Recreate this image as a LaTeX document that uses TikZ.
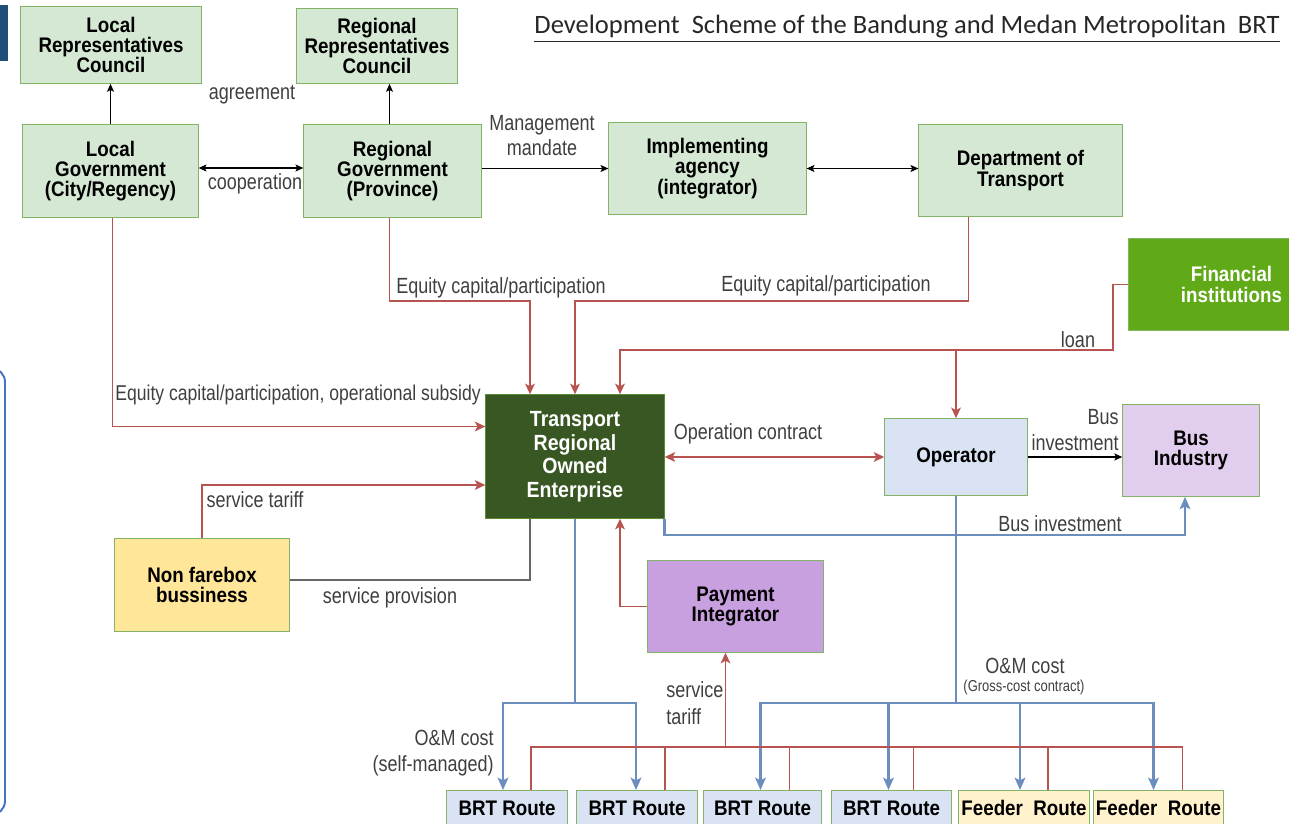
\documentclass[tikz,border=0pt]{standalone}
\usepackage{fontspec}
\usetikzlibrary{arrows.meta,calc}
\newfontfamily\boxfont[FakeStretch=0.89]{Liberation Sans}
\newfontfamily\lblfont[FakeStretch=0.82]{Liberation Sans}
\newfontfamily\ttlfont{Carlito}
\definecolor{gfill}{HTML}{D5E8D4}
\definecolor{gbord}{HTML}{82B366}
\definecolor{troefill}{HTML}{385723}
\definecolor{troebord}{HTML}{5B8C32}
\definecolor{finfill}{HTML}{60A917}
\definecolor{opfill}{HTML}{DAE3F3}
\definecolor{busfill}{HTML}{E1CDEE}
\definecolor{payfill}{HTML}{C9A0DF}
\definecolor{nffill}{HTML}{FFE699}
\definecolor{fdfill}{HTML}{FFF2CC}
\definecolor{redc}{HTML}{B85450}
\definecolor{bluec}{HTML}{6C8EBF}
\definecolor{lblc}{HTML}{3F3F3F}
\definecolor{barc}{HTML}{1F4E79}
\definecolor{frame}{HTML}{4472C4}
\newcommand\mkbox[7]{%
  \pgfmathsetmacro\bw{(#4-#2)*0.5669}%
  \pgfmathsetmacro\bh{(#5-#3)*0.5669}%
  \node[#6,minimum width=\bw pt,minimum height=\bh pt] (#1) at ({(#2+#4)/2},{(#3+#5)/2}) {#7};}
\begin{document}
\begin{tikzpicture}[x=0.02cm,y=-0.02cm,
  box/.style={draw=gbord,line width=0.6pt,inner sep=1pt,outer sep=0pt,align=center,
    font=\boxfont\bfseries\fontsize{12}{11.6}\selectfont,text=black},
  gbox/.style={box,fill=gfill},
  lbl/.style={font=\lblfont\fontsize{12.5}{14}\selectfont,text=lblc,inner sep=0pt},
  blk/.style={draw=black,line width=0.6pt,>={Stealth[length=4.5pt,width=4pt,inset=1pt]}},
  redl/.style={draw=redc,line width=1.1pt,>={Stealth[length=6pt,width=5.5pt,inset=1.5pt]}},
  redt/.style={draw=redc,line width=0.8pt},
  bluel/.style={draw=bluec,line width=1.4pt,>={Stealth[length=7pt,width=6pt,inset=1.5pt]}},
  greyl/.style={draw=gray!80!black,line width=0.8pt}]
\useasboundingbox (0,0) rectangle (1289,824);
\clip (0,0) rectangle (1289,824);
% decorations at the left edge
\fill[barc] (0,5) rectangle (8,61);
\draw[frame,line width=1.1pt,rounded corners=8pt] (-40,368) rectangle (5,815);
% title
\node[font=\ttlfont\fontsize{15.1}{17}\selectfont,text=black!85,inner sep=0pt,anchor=base] (title) at (907,34)
  {\underline{Development\ \ Scheme of the Bandung and Medan Metropolitan\ \ BRT}};
% boxes
\mkbox{LocRep}{20}{6}{202}{84}{gbox}{Local\\Representatives\\Council}
\mkbox{RegRep}{296}{8}{458}{84}{gbox}{Regional\\Representatives\\Council}
\mkbox{LocGov}{22}{124}{199}{218}{gbox}{Local\\Government\\(City/Regency)}
\mkbox{RegGov}{303}{124}{482}{218}{gbox}{Regional\\Government\\(Province)}
\mkbox{ImpA}{608}{122}{807}{215}{gbox}{Implementing\\agency\\(integrator)}
\mkbox{Dept}{918}{124}{1123}{217}{gbox}{Department of\\Transport}
\mkbox{Fin}{1128}{238}{1335}{331}{box,fill=finfill,text=white}{Financial\\institutions}
\mkbox{TROE}{485}{394}{665}{519}{box,fill=troefill,draw=troebord,text=white,font=\boxfont\bfseries\fontsize{12.5}{13.4}\selectfont}{Transport\\Regional\\Owned\\Enterprise}
\mkbox{Op}{884}{418}{1028}{496}{box,fill=opfill}{Operator}
\mkbox{BusInd}{1122}{404}{1260}{497}{box,fill=busfill}{Bus\\Industry}
\mkbox{NF}{114}{538}{290}{632}{box,fill=nffill}{Non farebox\\bussiness}
\mkbox{PI}{647}{560}{824}{653}{box,fill=payfill}{Payment\\Integrator}
\mkbox{BRTa}{446}{790}{568}{826}{box,fill=opfill}{BRT Route}
\mkbox{BRTb}{576}{790}{698}{826}{box,fill=opfill}{BRT Route}
\mkbox{BRTc}{703}{790}{822}{826}{box,fill=opfill}{BRT Route}
\mkbox{BRTd}{831}{790}{952}{826}{box,fill=opfill}{BRT Route}
\mkbox{FRa}{958}{790}{1090}{826}{box,fill=fdfill}{Feeder\ \ Route}
\mkbox{FRb}{1093}{790}{1224}{826}{box,fill=fdfill}{Feeder\ \ Route}
% top black connectors
\draw[blk,->] (LocGov.north) -- (LocGov.north |- LocRep.south);
\draw[blk,->] ($(RegGov.north)+(-3,0)$) -- ($(RegGov.north |- RegRep.south)+(-3,0)$);
\draw[blk,<->] ($(LocGov.east)+(0,-3)$) -- ($(RegGov.west)+(0,-3)$);
\draw[blk,->] (RegGov.east |- ImpA.east) -- (ImpA.east -| ImpA.west);
\draw[blk,<->] (ImpA.east) -- (ImpA.east -| Dept.west);
\node[lbl] (lagr) at (252,95) {agreement};
\node[lbl] (lcoop) at (255,184) {cooperation};
\node[lbl,align=center,font=\lblfont\fontsize{12.5}{14.2}\selectfont] (lmand) at (542,136) {Management\\mandate};
% equity capital flows
\draw[redl,->] ($(RegGov.south)+(-3,0)$) -- ++(0,83) -| ($(TROE.north)+(-45,0)$);
\draw[redl,->] ($(Dept.south)+(-52,0)$) -- ++(0,84) -| (TROE.north);
\draw[redl,->] ($(LocGov.south)+(2,0)$) |- ($(TROE.west)+(0,-30)$);
\node[lbl,anchor=west] (leq1) at (396,288) {Equity\ capital/participation};
\node[lbl,anchor=west] (leq2) at (721,286) {Equity\ capital/participation};
\node[lbl,anchor=west,font=\lblfont\fontsize{12.2}{14}\selectfont] (leq3) at (115,395) {Equity\ capital/participation, operational subsidy};
% loan
\coordinate (loanbar) at (0,350);
\draw[redl,->] (Fin.west) -- ++(-15,0) |- ($(TROE.north |- loanbar)+(45,0)$) -- ($(TROE.north)+(45,0)$);
\draw[redl,->] (Op.north |- loanbar) -- (Op.north);
\node[lbl] (lloan) at (1078,340) {loan};
% operator relations
\draw[redl,<->] (TROE.east |- Op.west) -- (Op.west);
\node[lbl] (lopc) at (748,434) {Operation contract};
\draw[blk,->] (Op.east) -- (Op.east -| BusInd.west);
\node[lbl,anchor=east,align=right,font=\lblfont\fontsize{12.5}{15}\selectfont] (lbus1) at (1119,430) {Bus\\investment};
\draw[bluel,->] (TROE.south east) -- ++(0,16) -| ($(BusInd.south)+(-6,0)$);
\node[lbl] (lbus2) at (1060,524) {Bus investment};
% non farebox
\draw[redl,->] (NF.north) |- ($(TROE.west)+(0,28.5)$);
\node[lbl] (lst) at (255,500) {service tariff};
\draw[greyl] ($(NF.east)+(0,-5)$) -| ($(TROE.south)+(-45,0)$);
\node[lbl] (lsp) at (390,598) {service provision};
% payment integrator
\draw[redl,->] (PI.west) -| ($(TROE.south)+(45,0)$);
% O&M costs
\coordinate (tbar) at (0,703);
\draw[bluel] (TROE.south) -- (TROE.south |- tbar);
\draw[bluel,->] (TROE.south |- tbar) -| ($(BRTa.north)+(-4,0)$);
\draw[bluel,->] (TROE.south |- tbar) -| ($(BRTb.north)+(-1,0)$);
\node[lbl,anchor=east,align=right,font=\lblfont\fontsize{12.5}{15}\selectfont] (lom1) at (494,753) {O\&M cost\\(self-managed)};
\draw[bluel] (Op.south) -- (Op.south |- tbar);
\draw[bluel,->] (Op.south |- tbar) -| ($(BRTc.north)+(-2,0)$);
\draw[bluel,->] (Op.south |- tbar) -| ($(BRTd.north)+(-3,0)$);
\draw[bluel,->] (Op.south |- tbar) -| ($(FRa.north)+(-4,0)$);
\draw[bluel,->] (Op.south |- tbar) -| ($(FRb.north)+(-5,0)$);
\node[lbl] (lom2) at (1025,666) {O\&M cost};
\node[lbl,font=\lblfont\fontsize{9}{10}\selectfont] (lgc) at (1024,687) {(Gross-cost contract)};
% service tariff from routes
\coordinate (rbar) at (0,747);
\coordinate (r1) at ($(BRTa.north)+(24,0)$);
\coordinate (r2) at ($(BRTb.north)+(28,0)$);
\coordinate (r3) at ($(BRTc.north)+(27,0)$);
\coordinate (r4) at ($(BRTd.north)+(22,0)$);
\coordinate (r5) at ($(FRa.north)+(24,0)$);
\coordinate (r6) at ($(FRb.north)+(24,0)$);
\draw[redt] (r1) -- (r1 |- rbar) -- (r5 |- rbar);
\draw[redt] (r5 |- rbar) -- (r6 |- rbar) -- (r6);
\foreach \r in {r2,r3,r4,r5} \draw[redt] (\r) -- (\r |- rbar);
\draw[redl] ($(r2 |- rbar)$) -- (r5 |- rbar);
\draw[redl,->] ($(PI.south |- rbar)+(-10,0)$) -- ($(PI.south)+(-10,0)$);
\node[lbl,anchor=west,align=left,font=\lblfont\fontsize{12.5}{15}\selectfont] (lst2) at (666,703) {service\\tariff};
\end{tikzpicture}
\end{document}
